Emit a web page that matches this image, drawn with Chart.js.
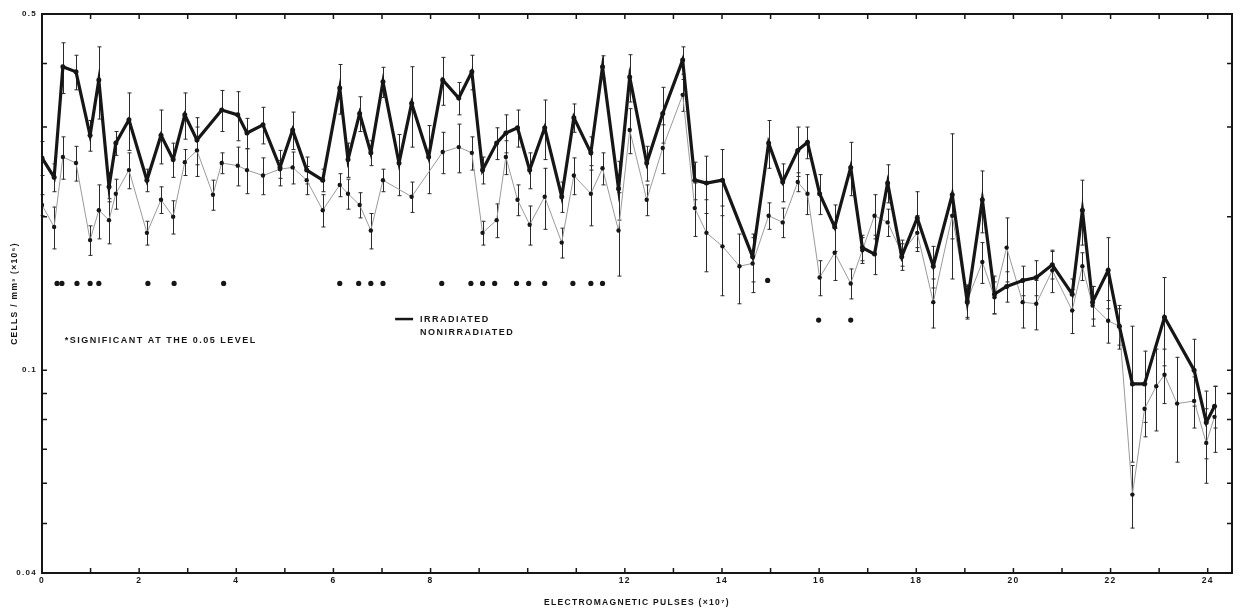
<!DOCTYPE html>
<html>
<head>
<meta charset="utf-8">
<script src="https://cdn.jsdelivr.net/npm/chart.js@4.4.1/dist/chart.umd.min.js"></script>
<style>
  body { margin: 0; background: #fff; }
  #grafico { display: block; }
</style>
</head>
<body>
<canvas id="grafico" width="1243" height="612"></canvas>
<script>
// pulses (x10^7) at each count
const pulses = [
  0.00, 0.25, 0.43, 0.70, 0.99, 1.17, 1.38, 1.52, 1.79, 2.16,
  2.45, 2.70, 2.94, 3.19, 3.52, 3.70, 4.03, 4.22, 4.55, 4.90,
  5.16, 5.45, 5.78, 6.13, 6.30, 6.54, 6.77, 7.02, 7.35, 7.61,
  7.96, 8.25, 8.58, 8.85, 9.07, 9.36, 9.55, 9.79, 10.04, 10.35,
  10.70, 10.95, 11.30, 11.54, 11.87, 12.10, 12.45, 12.78, 13.19, 13.44,
  13.68, 14.01, 14.36, 14.63, 14.96, 15.25, 15.56, 15.76, 16.01, 16.32,
  16.65, 16.89, 17.14, 17.41, 17.70, 18.02, 18.35, 18.74, 19.05, 19.36,
  19.61, 19.86, 20.19, 20.47, 20.80, 21.21, 21.42, 21.63, 21.95, 22.18,
  22.45, 22.70, 22.94, 23.11, 23.37, 23.72, 23.97, 24.14
];

// cells / mm3 (x10^6)
const irradiated = [
  0.261, 0.239, 0.394, 0.385, 0.289, 0.371, 0.229, 0.279, 0.310, 0.236,
  0.289, 0.259, 0.317, 0.283, null, 0.324, 0.317, 0.292, 0.303, 0.250,
  0.296, 0.247, 0.236, 0.358, 0.259, 0.319, 0.267, 0.368, 0.255, 0.334,
  0.262, 0.371, 0.342, 0.385, 0.247, 0.279, 0.292, 0.299, 0.247, 0.299,
  0.219, 0.313, 0.267, 0.394, 0.227, 0.376, 0.255, 0.319, 0.406, 0.236,
  0.233, 0.236, null, 0.167, 0.279, 0.234, 0.270, 0.280, 0.222, 0.191,
  0.250, 0.174, 0.169, 0.233, 0.167, 0.199, 0.160, 0.221, 0.136, 0.216,
  0.141, 0.146, 0.150, 0.152, 0.161, 0.141, 0.206, 0.136, 0.157, 0.122,
  0.094, 0.094, null, 0.127, null, 0.100, 0.079, 0.085
];
const irradiatedSE = [
  0.02, 0.015, 0.045, 0.03, 0.02, 0.06, 0.015, 0.015, 0.04, 0.012,
  0.035, 0.02, 0.033, 0.03, null, 0.03, 0.035, 0.02, 0.025, 0.02,
  0.025, 0.015, 0.012, 0.04, 0.02, 0.025, 0.015, 0.025, 0.035, 0.06,
  0.04, 0.04, 0.025, 0.03, 0.015, 0.02, 0.025, 0.025, 0.02, 0.04,
  0.015, 0.02, 0.02, 0.02, 0.03, 0.04, 0.02, 0.04, 0.025, 0.02,
  0.03, 0.035, null, 0.018, 0.03, 0.02, 0.03, 0.02, 0.02, 0.02,
  0.03, 0.01, 0.015, 0.02, 0.01, 0.025, 0.015, 0.07, 0.01, 0.03,
  0.012, 0.01, 0.01, 0.012, 0.01, 0.01, 0.03, 0.01, 0.025, 0.012,
  0.028, 0.015, null, 0.025, null, 0.015, 0.012, 0.008
];

const nonIrradiated = [
  0.211, 0.191, 0.262, 0.255, 0.180, 0.206, 0.197, 0.222, 0.247, 0.186,
  0.216, 0.200, 0.256, 0.270, 0.221, 0.255, 0.252, 0.247, 0.241, 0.248,
  0.250, 0.236, 0.206, 0.231, 0.222, 0.211, 0.188, 0.236, null, 0.219,
  null, 0.268, 0.274, 0.267, 0.186, 0.197, 0.262, 0.216, 0.193, 0.219,
  0.178, 0.241, 0.222, 0.249, 0.188, 0.296, 0.216, 0.273, 0.347, 0.208,
  0.186, 0.175, 0.160, 0.162, 0.201, 0.195, 0.234, 0.222, 0.152, 0.170,
  0.148, 0.172, 0.201, 0.195, 0.170, 0.186, 0.136, 0.201, 0.137, 0.163,
  0.139, 0.174, 0.136, 0.135, 0.157, 0.131, 0.160, 0.134, 0.125, 0.122,
  0.057, 0.084, 0.093, 0.098, 0.086, 0.087, 0.072, 0.081
];
const nonIrradiatedSE = [
  0.01, 0.018, 0.025, 0.02, 0.012, 0.025, 0.02, 0.015, 0.02, 0.01,
  0.013, 0.015, 0.015, 0.03, 0.015, 0.012, 0.022, 0.025, 0.02, 0.01,
  0.018, 0.015, 0.015, 0.012, 0.015, 0.012, 0.015, 0.012, null, 0.015,
  null, 0.025, 0.03, 0.02, 0.01, 0.015, 0.02, 0.015, 0.017, 0.03,
  0.012, 0.02, 0.03, 0.018, 0.035, 0.03, 0.015, 0.03, 0.025, 0.025,
  0.03, 0.035, 0.025, 0.02, 0.012, 0.013, 0.01, 0.02, 0.012, 0.02,
  0.01, 0.01, 0.02, 0.012, 0.01, 0.015, 0.015, 0.02, 0.01, 0.015,
  0.01, 0.025, 0.015, 0.015, 0.015, 0.013, 0.01, 0.012, 0.012, 0.01,
  0.008, 0.01, 0.017, 0.012, 0.02, 0.01, 0.012, 0.012
];

// significant differences (0.05 level)
const sigPulses = [
  0.31, 0.41, 0.72, 0.99, 1.17, 2.18, 2.72, 3.74, 6.13, 6.52,
  6.77, 7.02, 8.23, 8.83, 9.07, 9.32, 9.77, 10.02, 10.35, 10.93,
  11.30, 11.54, 14.94, 15.99, 16.65
];
const sigLevel = [
  0.148, 0.148, 0.148, 0.148, 0.148, 0.148, 0.148, 0.148, 0.148, 0.148,
  0.148, 0.148, 0.148, 0.148, 0.148, 0.148, 0.148, 0.148, 0.148, 0.148,
  0.148, 0.148, 0.150, 0.1254, 0.1254
];

const xTicks = [0,1,2,3,4,5,6,7,8,9,10,11,12,13,14,15,16,17,18,19,20,21,22,23,24];
const xLabels = [0, 2, 4, 6, 8, 12, 14, 16, 18, 20, 22, 24];
const yTicks = [0.04, 0.05, 0.06, 0.07, 0.08, 0.09, 0.1, 0.2, 0.3, 0.4, 0.5];
const yLabels = [0.04, 0.1, 0.5];

const tinta = "#161616";
const fuente = "'Liberation Sans', Arial, sans-serif";

function puntos(valores) {
  return pulses.map((p, i) => ({ x: p, y: valores[i] }));
}

// wide lettering for all the text of the figure
const espaciado = {
  id: "espaciado",
  beforeDraw(chart) {
    chart.ctx.letterSpacing = "1.3px";
  }
};

// error bars, drawn from the SE arrays through the scales
const barrasError = {
  id: "barrasError",
  beforeDatasetsDraw(chart) {
    const ctx = chart.ctx;
    const xs = chart.scales.x, ys = chart.scales.y;
    const series = [[irradiated, irradiatedSE], [nonIrradiated, nonIrradiatedSE]];
    ctx.save();
    ctx.strokeStyle = "#2a2a2a";
    ctx.lineWidth = 1;
    series.forEach(([val, se]) => {
      val.forEach((v, i) => {
        if (v == null || se[i] == null) return;
        const x = Math.round(xs.getPixelForValue(pulses[i])) + 0.5;
        const y1 = ys.getPixelForValue(v + se[i]);
        const y2 = ys.getPixelForValue(Math.max(v - se[i], 0.041));
        ctx.beginPath();
        ctx.moveTo(x, y1); ctx.lineTo(x, y2);
        ctx.moveTo(x - 2, y1); ctx.lineTo(x + 2, y1);
        ctx.moveTo(x - 2, y2); ctx.lineTo(x + 2, y2);
        ctx.stroke();
      });
    });
    ctx.restore();
  }
};

// frame, inward ticks, legend and note
const marco = {
  id: "marco",
  afterDraw(chart) {
    const ctx = chart.ctx;
    const a = chart.chartArea;
    const xs = chart.scales.x, ys = chart.scales.y;
    ctx.save();
    ctx.strokeStyle = tinta;
    ctx.lineWidth = 2;
    ctx.strokeRect(a.left, a.top, a.right - a.left, a.bottom - a.top);

    ctx.lineWidth = 1.5;
    ctx.beginPath();
    xTicks.forEach(t => {
      const x = xs.getPixelForValue(t);
      ctx.moveTo(x, a.bottom); ctx.lineTo(x, a.bottom - 5);
      ctx.moveTo(x, a.top); ctx.lineTo(x, a.top + 5);
    });
    yTicks.forEach(t => {
      const y = ys.getPixelForValue(t);
      ctx.moveTo(a.left, y); ctx.lineTo(a.left + 5, y);
      ctx.moveTo(a.right, y); ctx.lineTo(a.right - 5, y);
    });
    ctx.stroke();

    // leyenda
    ctx.lineWidth = 2.5;
    ctx.beginPath();
    ctx.moveTo(xs.getPixelForValue(7.27), ys.getPixelForValue(0.126));
    ctx.lineTo(xs.getPixelForValue(7.64), ys.getPixelForValue(0.126));
    ctx.stroke();
    ctx.fillStyle = tinta;
    ctx.letterSpacing = "1.5px";
    ctx.font = "bold 9px " + fuente;
    ctx.textBaseline = "middle";
    ctx.textAlign = "left";
    ctx.fillText("IRRADIATED", xs.getPixelForValue(7.78), ys.getPixelForValue(0.126));
    ctx.fillText("NONIRRADIATED", xs.getPixelForValue(7.78), ys.getPixelForValue(0.1183));

    // nota de significancia
    ctx.fillText("*SIGNIFICANT AT THE 0.05 LEVEL", xs.getPixelForValue(0.47), ys.getPixelForValue(0.1146));
    ctx.restore();
  }
};

const config = {
  type: "line",
  data: {
    datasets: [
      {
        label: "IRRADIATED",
        data: puntos(irradiated),
        borderColor: tinta,
        borderWidth: 3.2,
        pointRadius: 2.5,
        pointBackgroundColor: tinta,
        pointBorderWidth: 0,
        spanGaps: true,
        order: 1
      },
      {
        label: "NONIRRADIATED",
        data: puntos(nonIrradiated),
        borderColor: "#9a9a9a",
        borderWidth: 1,
        pointRadius: 2.2,
        pointBackgroundColor: tinta,
        pointBorderWidth: 0,
        spanGaps: true,
        order: 2
      },
      {
        label: "significant",
        data: sigPulses.map((p, i) => ({ x: p, y: sigLevel[i] })),
        showLine: false,
        pointRadius: 2.6,
        pointBackgroundColor: tinta,
        pointBorderWidth: 0,
        order: 3
      }
    ]
  },
  options: {
    responsive: false,
    animation: false,
    layout: { padding: { top: 14, right: 11, left: 0, bottom: 0 } },
    plugins: { legend: { display: false }, tooltip: { enabled: false } },
    scales: {
      x: {
        type: "linear",
        min: 0,
        max: 24.5,
        afterBuildTicks: s => { s.ticks = xTicks.map(v => ({ value: v })); },
        afterFit: s => { s.height = 39; },
        grid: { display: false, drawTicks: false },
        border: { display: true, color: tinta, width: 2 },
        ticks: {
          padding: 3,
          autoSkip: false,
          maxRotation: 0,
          color: tinta,
          font: { family: fuente, size: 8.5, weight: "bold" },
          callback: v => xLabels.includes(v) ? String(v) : ""
        },
        title: {
          display: true,
          text: "ELECTROMAGNETIC PULSES (\u00d710\u2077)",
          color: tinta,
          font: { family: fuente, size: 8.5, weight: "bold" },
          padding: { top: 0, bottom: 4 }
        }
      },
      y: {
        type: "logarithmic",
        min: 0.04,
        max: 0.5,
        afterBuildTicks: s => { s.ticks = yTicks.map(v => ({ value: v })); },
        afterFit: s => { s.width = 42; },
        grid: { display: false, drawTicks: false },
        border: { display: true, color: tinta, width: 2 },
        ticks: {
          padding: 5,
          autoSkip: false,
          color: tinta,
          font: { family: fuente, size: 8, weight: "bold" },
          callback: v => yLabels.includes(v) ? String(v) : ""
        },
        title: {
          display: true,
          text: "CELLS / mm\u00b3 (\u00d710\u2076)",
          color: tinta,
          font: { family: fuente, size: 8.5, weight: "bold" },
          padding: { top: 10, bottom: 0 }
        }
      }
    }
  },
  plugins: [espaciado, barrasError, marco]
};

const chart = new Chart(document.getElementById("grafico"), config);
</script>
</body>
</html>
